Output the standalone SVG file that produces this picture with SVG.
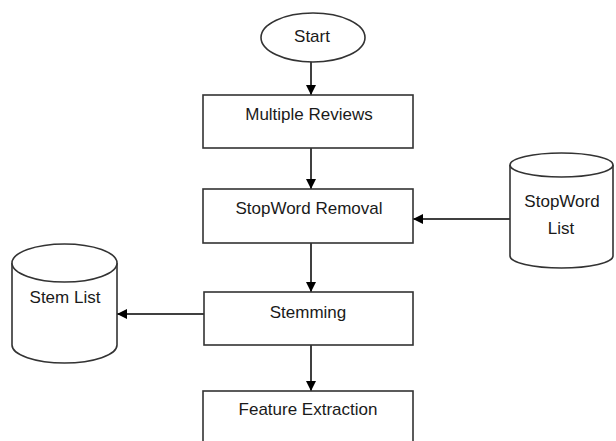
<svg xmlns="http://www.w3.org/2000/svg" width="616" height="441" viewBox="0 0 616 441">
  <defs>
    <marker id="arrow" viewBox="0 0 10 10" refX="10" refY="5" markerWidth="10" markerHeight="10" markerUnits="userSpaceOnUse" orient="auto">
      <path d="M0,0 L10,5 L0,10 Z" fill="#000"/>
    </marker>
  </defs>
  <style>
    .shape { fill: #fff; stroke: #333; stroke-width: 1.6; }
    .label { font-family: "Liberation Sans", Arial, sans-serif; font-size: 17px; fill: #1a1a1a; text-anchor: middle; }
    .edge { stroke: #000; stroke-width: 1.5; fill: none; marker-end: url(#arrow); }
  </style>
  <rect width="616" height="441" fill="#fff"/>

  <g id="connectors">
    <line class="edge" x1="311" y1="62" x2="311" y2="95"/>
    <line class="edge" x1="311" y1="148" x2="311" y2="189"/>
    <line class="edge" x1="311" y1="243" x2="311" y2="292"/>
    <line class="edge" x1="311" y1="345" x2="311" y2="391"/>
    <line class="edge" x1="510" y1="219" x2="413" y2="219"/>
    <line class="edge" x1="204" y1="314" x2="117" y2="314"/>
  </g>

  <g id="start">
    <ellipse class="shape" cx="313" cy="37.5" rx="52" ry="24.5"/>
    <text class="label" x="312" y="42">Start</text>
  </g>

  <g id="multiple-reviews">
    <rect class="shape" x="203" y="95" width="210" height="53"/>
    <text class="label" x="309" y="120">Multiple Reviews</text>
  </g>

  <g id="stopword-removal">
    <rect class="shape" x="203" y="189" width="210" height="54"/>
    <text class="label" x="309" y="214">StopWord Removal</text>
  </g>

  <g id="stemming">
    <rect class="shape" x="204" y="292" width="209" height="53"/>
    <text class="label" x="308" y="318">Stemming</text>
  </g>

  <g id="feature-extraction">
    <rect class="shape" x="203" y="391" width="210" height="60"/>
    <text class="label" x="308" y="415">Feature Extraction</text>
  </g>

  <g id="stopword-list">
    <path class="shape" d="M510,165 L510,256 A51.5,12 0 0 0 613,256 L613,165"/>
    <ellipse class="shape" cx="561.5" cy="165" rx="51.5" ry="12"/>
    <text class="label" x="562" y="207">StopWord</text>
    <text class="label" x="561" y="234">List</text>
  </g>

  <g id="stem-list">
    <path class="shape" d="M12,263 L12,345 A52.5,18 0 0 0 117,345 L117,263"/>
    <ellipse class="shape" cx="64.5" cy="263" rx="52.5" ry="19"/>
    <text class="label" x="65" y="303">Stem List</text>
  </g>
</svg>
